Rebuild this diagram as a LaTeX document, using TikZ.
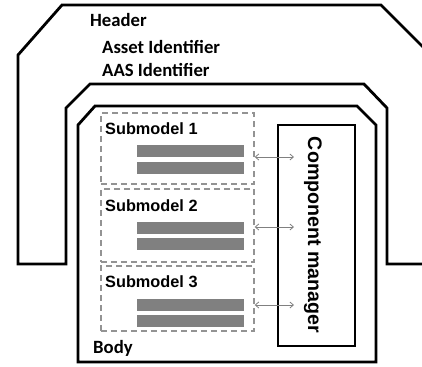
\documentclass[tikz,border=0pt]{standalone}
\usepackage{fontspec}
\newfontfamily\calfont{Carlito}
\newfontfamily\arfont{Liberation Sans}
\usetikzlibrary{arrows.meta}
\tikzset{
  outline/.style={draw=black, line width=2.8bp, line join=miter},
  hdrtext/.style={anchor=base west, inner sep=0pt, font=\calfont\bfseries\fontsize{18.7bp}{21bp}\selectfont},
  smtext/.style={anchor=base west, inner sep=0pt, font=\arfont\bfseries\fontsize{16.3bp}{19bp}\selectfont},
  smbox/.style={draw=gray!85, line width=1.4bp, dash pattern=on 6bp off 4bp, minimum width=153bp, inner sep=0pt},
  bar/.style={fill=gray, draw=none, minimum width=107bp, minimum height=12bp, inner sep=0pt},
  link/.style={draw=gray, line width=0.8bp, {Straight Barb[length=3.5bp,width=6bp]}-{Straight Barb[length=3.5bp,width=6bp]}},
  mgrbox/.style={draw=black, line width=2.8bp, minimum width=77bp, minimum height=221bp, inner sep=0pt}
}
\begin{document}
\begin{tikzpicture}[x=1bp,y=-1bp]
\useasboundingbox (0,0) rectangle (422,367);
\begin{scope}
\clip (0,0) rectangle (422,367);
\draw[outline] (440,264) -- (387,264) -- (387,108) -- (364,84) -- (90,84) -- (66,108) -- (66,264) -- (18,264) -- (18,55) -- (62,5) -- (381,5) -- (440,64);
\end{scope}
\draw[outline] (78,125) -- (95,106) -- (357,106) -- (376,125) -- (376,362) -- (78,362) -- cycle;

\node[hdrtext] (hdr) at (90,26) {Header};
\node[hdrtext] (aid) at (102,53) {Asset Identifier};
\node[hdrtext] (aas) at (102,76) {AAS Identifier};
\node[hdrtext] (body) at (93,353) {Body};

\node[smbox, minimum height=71bp] (sm1) at (177.5,148.5) {};
\node[smbox, minimum height=73bp] (sm2) at (177.5,225.5) {};
\node[smbox, minimum height=65bp] (sm3) at (177.5,298.5) {};

\node[smtext] (t1) at (105,134) {Submodel 1};
\node[smtext] (t2) at (105,211) {Submodel 2};
\node[smtext] (t3) at (105,287) {Submodel 3};

\node[bar] (b11) at (190.5,151) {};
\node[bar] (b12) at (190.5,167.5) {};
\node[bar] (b21) at (190.5,228) {};
\node[bar] (b22) at (190.5,244) {};
\node[bar] (b31) at (190.5,304.5) {};
\node[bar] (b32) at (190.5,321) {};

\node[mgrbox] (mgr) at (316.5,235.5) {};
\node[rotate=-90, inner sep=0pt, font=\arfont\bfseries\fontsize{19.6bp}{22bp}\selectfont] (mgrt) at (313,235) {Component manager};

\coordinate (e1) at (294,157);
\coordinate (e2) at (294,227);
\coordinate (e3) at (294,305);
\draw[link] (sm1.east |- e1) -- (e1);
\draw[link] (sm2.east |- e2) -- (e2);
\draw[link] (sm3.east |- e3) -- (e3);
\end{tikzpicture}
\end{document}
